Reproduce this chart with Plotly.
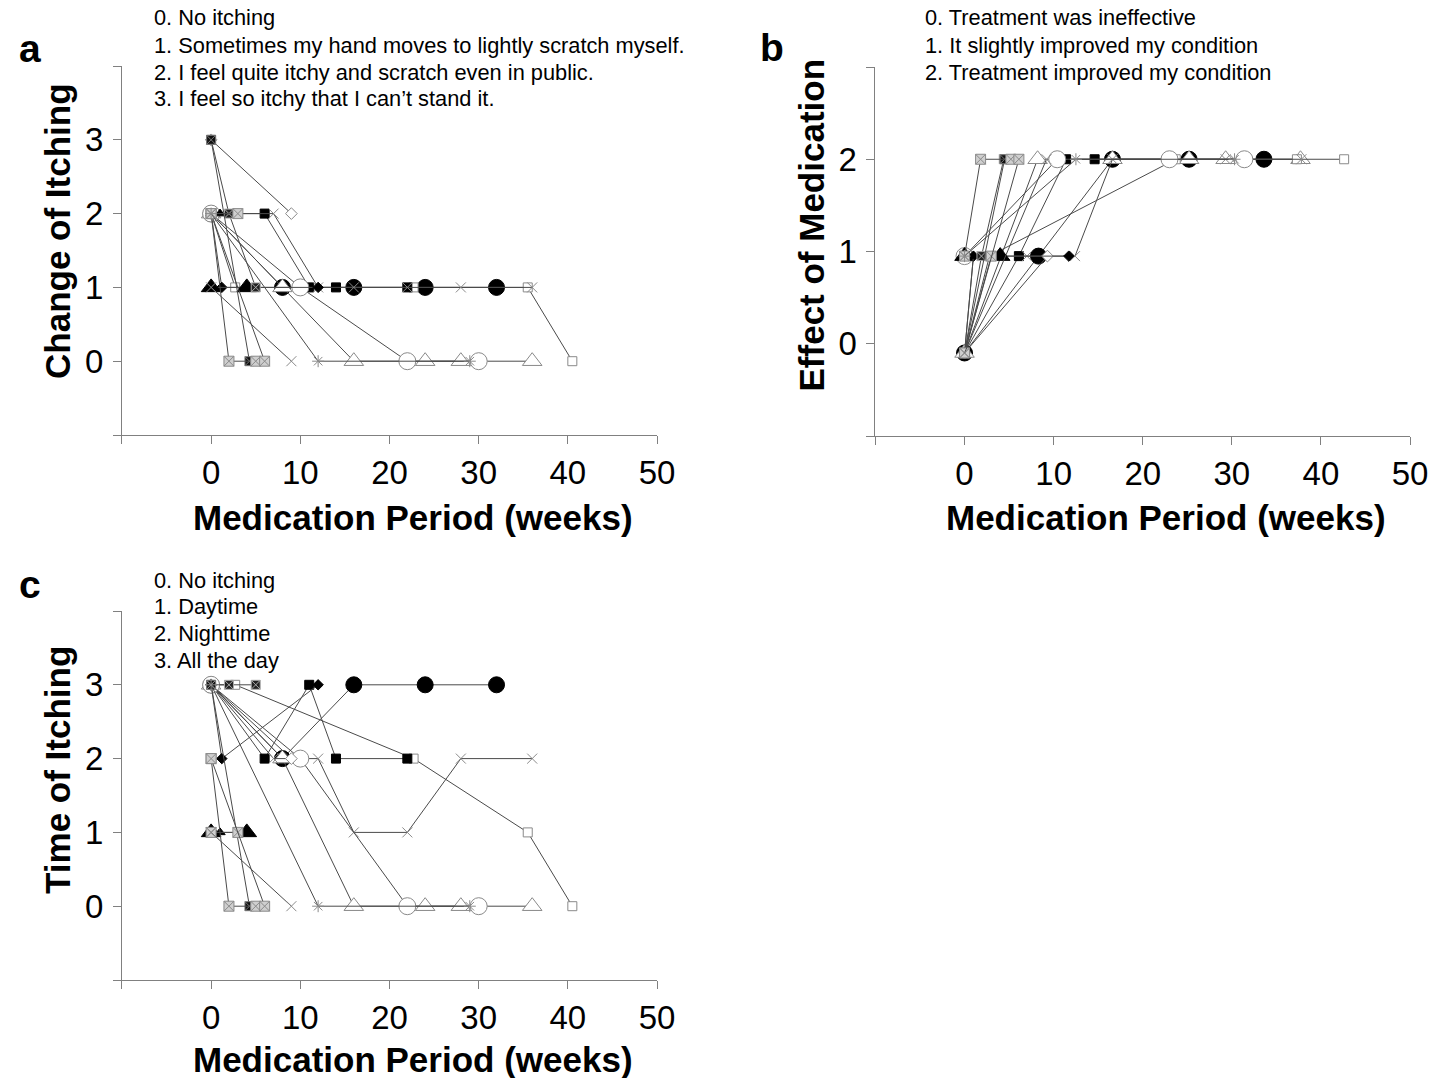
import plotly.graph_objects as go

# ---------------- data ----------------
# patient marker keys (one per patient)
PATIENTS = ["BC", "OT", "OS", "BS", "X1", "OC", "DO", "BD", "BT", "ST", "DX", "BX", "GX1", "GX2", "GX3", "AS", "X2"]

# visit weeks used in panels a and c
WEEKS_AC = [
    [0, 8, 16, 24, 32],
    [0, 8, 16, 24, 28, 36],
    [0, 2.7, 22.7, 35.5, 40.5],
    [0, 6, 11, 14, 22],
    [0, 7, 12, 16, 22, 28, 36],
    [0, 10, 22, 30],
    [0, 9],
    [0, 1.2, 12],
    [0, 4],
    [0, 1],
    [0, 2, 5],
    [0, 4.3],
    [0, 3],
    [0, 2, 5],
    [0, 6],
    [0, 12, 29],
    [0, 9],
]
# a: change of itching
SCORE_A = [
    [2, 1, 1, 1, 1],
    [2, 1, 0, 0, 0, 0],
    [2, 1, 1, 1, 0],
    [2, 2, 1, 1, 1],
    [2, 2, 1, 1, 1, 1, 1],
    [2, 1, 0, 0],
    [3, 2],
    [2, 1, 1],
    [1, 1],
    [2, 2],
    [3, 2, 1],
    [3, 0],
    [2, 2],
    [2, 0, 0],
    [2, 0],
    [2, 0, 0],
    [1, 0],
]
# c: time of itching
SCORE_C = [
    [3, 2, 3, 3, 3],
    [3, 2, 0, 0, 0, 0],
    [3, 3, 2, 1, 0],
    [3, 2, 3, 2, 2],
    [3, 2, 2, 1, 1, 2, 2],
    [3, 2, 0, 0],
    [3, 2],
    [3, 2, 3],
    [1, 1],
    [1, 1],
    [3, 3, 3],
    [3, 0],
    [1, 1],
    [2, 0, 0],
    [2, 0],
    [3, 0, 0],
    [1, 0],
]
# b: effect of medication (weeks as plotted in panel b)
WEEKS_B = [
    [0, 8.3, 16.6, 25.2, 33.6],
    [0, 8.2, 16.6, 25.2, 29.3, 37.7],
    [0, 2.8, 23.7, 37.3, 42.6],
    [0, 6.1, 11.4, 14.6, 23.0],
    [0, 7.0, 12.4, 16.6, 23.0, 29.3, 37.8],
    [0, 10.4, 23.0, 31.4],
    [0, 9.3],
    [0, 1.0, 11.7],
    [0, 4.0],
    [0, 1.0],
    [0, 1.9, 4.4],
    [0, 4.5],
    [0, 3.0],
    [0, 1.8, 5.2],
    [0, 6.1],
    [0, 12.5, 30.3],
    [0, 9.2],
]
SCORE_B = [
    [-0.1, 0.95, 2, 2, 2],
    [-0.1, 2, 2, 2, 2, 2],
    [-0.1, 0.95, 2, 2, 2],
    [-0.1, 0.95, 2, 2, 2],
    [0.95, 0.95, 0.95, 2, 2, 2, 2],
    [0.95, 2, 2, 2],
    [-0.1, 0.95],
    [-0.1, 0.95, 0.95],
    [0.95, 0.95],
    [-0.1, 0.95],
    [-0.1, 0.95, 2],
    [-0.1, 2],
    [-0.1, 0.95],
    [0.95, 2, 2],
    [-0.1, 2],
    [0.95, 2, 2],
    [-0.1, 2],
]

X_TICKS = [-10, 0, 10, 20, 30, 40, 50]
X_TICKTEXT = ["", "0", "10", "20", "30", "40", "50"]
Y_TICKS_AC = [-1, 0, 1, 2, 3, 4]
Y_TICKTEXT_AC = ["", "0", "1", "2", "3", ""]
Y_TICKS_B = [-1, 0, 1, 2, 3]
Y_TICKTEXT_B = ["", "0", "1", "2", ""]

LEGEND_A = ["0. No itching", "1. Sometimes my hand moves to lightly scratch myself.",
            "2. I feel quite itchy and scratch even in public.", "3. I feel so itchy that I can\u2019t stand it."]
LEGEND_B = ["0. Treatment was ineffective", "1. It slightly improved my condition",
            "2. Treatment improved my condition"]
LEGEND_C = ["0. No itching", "1. Daytime", "2. Nighttime", "3. All the day"]

# ---------------- styles ----------------
GRAY = "#8a8a8a"
STYLE = {
    "BC": dict(symbol="circle", size=16, color="black", line=dict(color="black", width=1)),
    "OT": dict(symbol="triangle-up", size=17, color="white", line=dict(color=GRAY, width=1)),
    "OS": dict(symbol="square", size=9, color="white", line=dict(color=GRAY, width=1)),
    "BS": dict(symbol="square", size=9, color="black", line=dict(color="black", width=1)),
    "X1": dict(symbol="x-thin", size=10, color=GRAY, line=dict(color=GRAY, width=1)),
    "X2": dict(symbol="x-thin", size=10, color=GRAY, line=dict(color=GRAY, width=1)),
    "OC": dict(symbol="circle", size=17, color="white", line=dict(color=GRAY, width=1)),
    "DO": dict(symbol="diamond", size=9, color="white", line=dict(color=GRAY, width=1)),
    "BD": dict(symbol="diamond", size=8, color="black", line=dict(color="black", width=1)),
    "BT": dict(symbol="triangle-up", size=17, color="black", line=dict(color="black", width=1)),
    "ST": dict(symbol="triangle-up", size=9, color="black", line=dict(color="black", width=1)),
    "DX": dict(symbol="square-x", size=9, color="#222222", line=dict(color="#aaaaaa", width=1)),
    "BX": dict(symbol="square-x", size=9, color="#111111", line=dict(color="#777777", width=1)),
    "GX1": dict(symbol="square-x", size=10, color="#cfcfcf", line=dict(color="#8a8a8a", width=1)),
    "GX2": dict(symbol="square-x", size=10, color="#cfcfcf", line=dict(color="#8a8a8a", width=1)),
    "GX3": dict(symbol="square-x", size=10, color="#cfcfcf", line=dict(color="#8a8a8a", width=1)),
    "AS": dict(symbol="asterisk", size=10, color=GRAY, line=dict(color=GRAY, width=1)),
}

W, H = 1451, 1078
KX = 1.0119  # horizontal compensation for the capture's slight horizontal squeeze
FONT = "Liberation Sans, Arial, sans-serif"


def px_x(p):
    return p * KX / W


def px_y(p):
    return 1 - p / H


fig = go.Figure()

panels = [
    ("x", "y", WEEKS_AC, SCORE_A),
    ("x2", "y2", WEEKS_B, SCORE_B),
    ("x3", "y3", WEEKS_AC, SCORE_C),
]
for xa, ya, weeks, scores in panels:
    for key, wk, sc in zip(PATIENTS, weeks, scores):
        st = STYLE[key]
        fig.add_trace(go.Scatter(
            x=wk, y=sc, xaxis=xa, yaxis=ya, mode="lines+markers",
            line=dict(color="#4a4a4a", width=1),
            marker=dict(symbol=st["symbol"], size=st["size"], color=st["color"], line=st["line"]),
            showlegend=False, hoverinfo="skip", cliponaxis=False,
        ))

axis_common = dict(showline=True, linecolor="#808080", linewidth=1, ticks="outside", ticklen=8,
                   tickcolor="#808080", tickwidth=1, showgrid=False, zeroline=False,
                   tickfont=dict(family=FONT, size=33, color="black"))

geo = {
    "a": dict(x0=122, x1=657.5, y0=66, y1=435, yr=[-1, 4]),
    "b": dict(x0=876, x1=1411, y0=67, y1=436, yr=[-1, 3]),
    "c": dict(x0=122, x1=657.5, y0=611, y1=980, yr=[-1, 4]),
}
names = {"a": ("xaxis", "yaxis", "x", "y"), "b": ("xaxis2", "yaxis2", "x2", "y2"), "c": ("xaxis3", "yaxis3", "x3", "y3")}
layout_axes = {}
for k, g in geo.items():
    xn, yn, xr, yr_ = names[k]
    yt = Y_TICKS_B if k == "b" else Y_TICKS_AC
    ytt = Y_TICKTEXT_B if k == "b" else Y_TICKTEXT_AC
    layout_axes[xn] = dict(axis_common, domain=[px_x(g["x0"]), px_x(g["x1"])], range=[-10, 50],
                           tickvals=X_TICKS, ticktext=X_TICKTEXT, anchor=yr_, ticklabelstandoff=0)
    layout_axes[yn] = dict(axis_common, domain=[px_y(g["y1"]), px_y(g["y0"])], range=g["yr"],
                           tickvals=yt, ticktext=ytt, anchor=xr, ticklabelstandoff=3)

annotations = []


def add_text(text, x, y, size, bold=False, xanchor="left", angle=0):
    annotations.append(dict(text=("<b>%s</b>" % text) if bold else text, x=px_x(x), y=px_y(y),
                            xref="paper", yref="paper", showarrow=False, xanchor=xanchor,
                            yanchor="middle", textangle=angle,
                            font=dict(family=FONT, size=size, color="black")))


add_text("a", 30, 48, 39, bold=True, xanchor="center")
add_text("b", 773, 47, 39, bold=True, xanchor="center")
add_text("c", 30, 584, 39, bold=True, xanchor="center")
for i, t in enumerate(LEGEND_A):
    add_text(t, 152, 18 + 27 * i, 21.8)
for i, t in enumerate(LEGEND_B):
    add_text(t, 924, 18 + 27 * i, 21.8)
for i, t in enumerate(LEGEND_C):
    add_text(t, 152, 580 + 26.7 * i, 21.8)
add_text("Medication Period (weeks)", 413, 517, 35, bold=True, xanchor="center")
add_text("Medication Period (weeks)", 1167, 517, 35, bold=True, xanchor="center")
add_text("Medication Period (weeks)", 413, 1059, 35, bold=True, xanchor="center")
add_text("Change of Itching", 57, 231, 35, bold=True, xanchor="center", angle=-90)
add_text("Effect of Medication", 812, 225, 35, bold=True, xanchor="center", angle=-90)
add_text("Time of Itching", 57, 770, 35, bold=True, xanchor="center", angle=-90)

fig.update_layout(width=W, height=H, autosize=False, margin=dict(l=0, r=0, t=0, b=0),
                  paper_bgcolor="white", plot_bgcolor="white", annotations=annotations, **layout_axes)

fig.write_html("out.html", config={"displayModeBar": False, "responsive": False},
               post_script="document.body.style.margin='0px';document.body.style.overflow='hidden';"
                           "document.documentElement.style.overflow='hidden';")
